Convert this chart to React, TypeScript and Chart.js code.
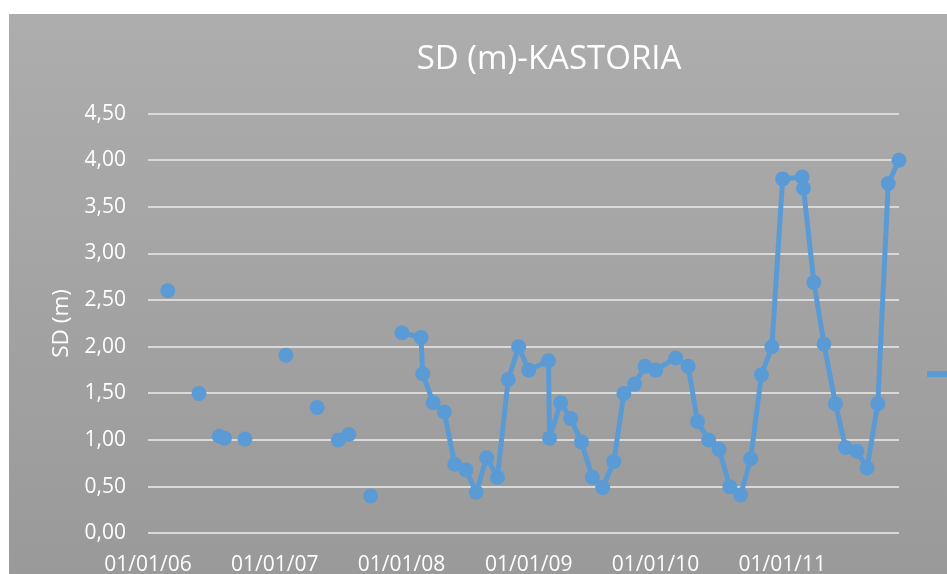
import React, { useEffect, useRef } from 'react';
import { Chart, registerables } from 'chart.js';

Chart.register(...registerables);

const TITLE = 'SD (m)-KASTORIA';
const SERIES_LABEL = 'SD (m)';
const Y_AXIS_TITLE = 'SD (m)';

// Isolated measurements (no connecting line in the original)
const isolatedDates = [
  '2006-02-27', '2006-05-28', '2006-07-25', '2006-08-09', '2006-10-07',
  '2007-02-02', '2007-05-03', '2007-07-03', '2007-08-02', '2007-10-04',
];
const isolatedValues = [2.6, 1.5, 1.04, 1.02, 1.01, 1.91, 1.35, 1.0, 1.06, 0.4];

// Continuous monthly series (connected line)
const linkedDates = [
  '2008-01-02', '2008-02-26', '2008-03-02', '2008-04-01', '2008-05-03', '2008-06-02',
  '2008-07-04', '2008-08-03', '2008-09-02', '2008-10-03', '2008-11-03', '2008-12-03',
  '2009-01-01', '2009-02-27', '2009-03-02', '2009-04-03', '2009-05-02', '2009-06-02',
  '2009-07-03', '2009-08-02', '2009-09-03', '2009-10-02', '2009-11-02', '2009-12-02',
  '2010-01-02', '2010-02-28', '2010-04-05', '2010-05-02', '2010-06-03', '2010-07-03',
  '2010-08-03', '2010-09-03', '2010-10-02', '2010-11-02', '2010-12-02',
  '2011-01-02', '2011-02-27', '2011-03-03', '2011-04-02', '2011-05-01', '2011-06-03',
  '2011-07-02', '2011-08-04', '2011-09-02', '2011-10-03', '2011-11-02', '2011-12-03',
];
const linkedValues = [
  2.15, 2.1, 1.71, 1.4, 1.3, 0.74, 0.68, 0.44, 0.81, 0.6, 1.65, 2.0,
  1.75, 1.85, 1.02, 1.4, 1.23, 0.98, 0.6, 0.49, 0.77, 1.5, 1.6, 1.79,
  1.75, 1.88, 1.79, 1.2, 1.0, 0.9, 0.5, 0.41, 0.8, 1.7, 2.0,
  3.8, 3.82, 3.7, 2.69, 2.03, 1.39, 0.92, 0.88, 0.7, 1.39, 3.75, 4.0,
];

const xTickDates = ['2006-01-01', '2007-01-01', '2008-01-01', '2009-01-01', '2010-01-01', '2011-01-01'];
const xTickLabels = ['01/01/06', '01/01/07', '01/01/08', '01/01/09', '01/01/10', '01/01/11'];

const Y_MIN = 0;
const Y_MAX = 4.5;
const Y_STEP = 0.5;

const BLUE = '#5b9bd5';
const TEXT = '#ffffff';
const GRID = '#d9d9d9';
const FONT = "'Open Sans', sans-serif";

const ORIGIN = Date.UTC(2006, 0, 1);
function dayNumber(s: string): number {
  const [y, m, d] = s.split('-').map(Number);
  return (Date.UTC(y, m - 1, d) - ORIGIN) / 86400000;
}

const bgPlugin = {
  id: 'excelBg',
  beforeDraw(chart: any) {
    const { ctx, width, height } = chart;
    const g = ctx.createLinearGradient(0, 0, 0, height);
    g.addColorStop(0, '#adadad');
    g.addColorStop(1, '#949494');
    ctx.save();
    ctx.fillStyle = g;
    ctx.fillRect(0, 0, width, height);
    ctx.restore();
  },
};

export default function App() {
  const ref = useRef<HTMLCanvasElement | null>(null);

  useEffect(() => {
    if (!ref.current) return;
    const points = [
      ...isolatedDates.map((d, i) => ({ x: dayNumber(d), y: isolatedValues[i] })),
      ...linkedDates.map((d, i) => ({ x: dayNumber(d), y: linkedValues[i] })),
    ];
    const nIso = isolatedDates.length;
    const chart = new Chart(ref.current, {
      type: 'line',
      data: {
        datasets: [
          {
            label: SERIES_LABEL,
            data: points,
            borderColor: BLUE,
            backgroundColor: BLUE,
            borderWidth: 5,
            borderJoinStyle: 'round',
            borderCapStyle: 'round',
            pointRadius: 7.5,
            pointHoverRadius: 7.5,
            pointBackgroundColor: BLUE,
            pointBorderColor: BLUE,
            pointBorderWidth: 0,
            tension: 0,
            clip: false,
            segment: {
              borderColor: (c: any) => (c.p0DataIndex < nIso ? 'rgba(0,0,0,0)' : undefined),
            },
          } as any,
        ],
      },
      options: {
        animation: false,
        responsive: false,
        devicePixelRatio: 1,
        layout: { padding: 0 },
        events: [],
        plugins: {
          title: {
            display: true,
            text: TITLE,
            color: TEXT,
            font: { family: FONT, size: 33, weight: 'normal' },
            padding: { top: 26.2, bottom: 33.8 },
          },
          legend: {
            display: true,
            position: 'right',
            maxWidth: 190,
            labels: {
              boxWidth: 90,
              boxHeight: 6,
              padding: 28,
              color: TEXT,
              font: { family: FONT, size: 21 },
              generateLabels: (ch: any) =>
                Chart.defaults.plugins.legend.labels.generateLabels(ch).map((l: any) => ({
                  ...l,
                  fillStyle: BLUE,
                  lineWidth: 0,
                })),
            },
          },
          tooltip: { enabled: false },
        },
        scales: {
          x: {
            type: 'linear',
            min: dayNumber(xTickDates[0]),
            max: dayNumber(linkedDates[linkedDates.length - 1]),
            afterBuildTicks: (s: any) => {
              s.ticks = xTickDates.map((d) => ({ value: dayNumber(d) }));
            },
            afterFit: (s: any) => {
              s.height = 200.7;
            },
            grid: { display: false, drawTicks: false },
            border: { display: false },
            ticks: {
              autoSkip: false,
              maxRotation: 0,
              minRotation: 0,
              padding: 19,
              color: TEXT,
              font: { family: FONT, size: 21 },
              callback: (_v: any, i: number) => xTickLabels[i],
            },
          },
          y: {
            min: Y_MIN,
            max: Y_MAX,
            afterFit: (s: any) => {
              s.width = 139;
            },
            grid: { color: GRID, lineWidth: 2, drawTicks: false },
            border: { display: false },
            ticks: {
              stepSize: Y_STEP,
              padding: 22,
              color: TEXT,
              font: { family: FONT, size: 21 },
              callback: (v: any) => Number(v).toFixed(2).replace('.', ','),
            },
            title: {
              display: true,
              text: Y_AXIS_TITLE,
              color: TEXT,
              font: { family: FONT, size: 22.5, weight: 'normal' },
              padding: { top: 39.5, bottom: 0 },
            },
          },
        },
      } as any,
      plugins: [bgPlugin],
    });
    return () => chart.destroy();
  }, []);

  return (
    <div
      style={{
        position: 'fixed',
        left: 9,
        top: 14,
        width: 938,
        height: 560,
        overflow: 'hidden',
      }}
    >
      <canvas ref={ref} width={1080} height={720} style={{ display: 'block', width: 1080, height: 720 }} />
    </div>
  );
}
